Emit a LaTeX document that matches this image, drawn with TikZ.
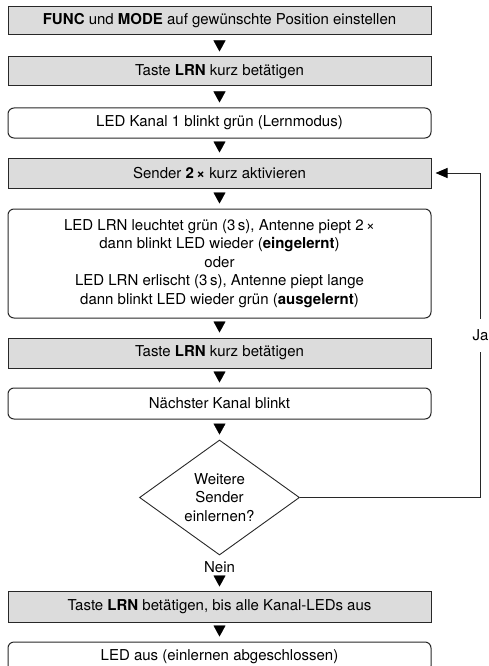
\documentclass[tikz,border=0pt]{standalone}
\usepackage{fontspec}
\setmainfont{TeX Gyre Heros}
\usetikzlibrary{arrows.meta,shapes.geometric}
\definecolor{boxgray}{RGB}{220,220,220}
\definecolor{linegray}{RGB}{40,40,40}
\tikzset{
    stepbox/.style={draw=linegray,line width=1pt,fill=boxgray,minimum width=423pt,minimum height=30pt,inner sep=0pt,align=center,font=\fontsize{15}{18.5}\selectfont},
    infobox/.style={draw=linegray,line width=1pt,rounded corners=6pt,fill=white,minimum width=423pt,minimum height=30pt,inner sep=0pt,align=center,font=\fontsize{15}{18.5}\selectfont},
    query/.style={diamond,draw=linegray,line width=0.9pt,aspect=1.39,minimum width=160pt,minimum height=115pt,inner sep=0pt,align=center,font=\fontsize{15}{18.5}\selectfont},
    flow/.style={line width=0.4pt,-{Triangle[width=12pt,length=11pt,fill=black]},shorten <=6pt,shorten >=5pt},
    back/.style={draw=linegray,line width=1pt,-{Triangle[width=10pt,length=12pt,fill=black,color=black]},shorten >=4pt}
}
\begin{document}
\begin{tikzpicture}[x=1pt,y=-1pt]
                    \useasboundingbox (0,0) rectangle (489,666);

                    \node (funcmode) [stepbox,minimum height=28pt] at (219.5,21) {\textbf{FUNC} und \textbf{MODE} auf gewünschte Position einstellen};
                    \node (lrnpress) [stepbox,minimum height=29pt] at (219.5,71.5) {Taste \textbf{LRN} kurz betätigen};
                    \node (blink) [infobox] at (219.5,123) {LED Kanal 1 blinkt grün (Lernmodus)};
                    \node (sender) [stepbox] at (219.5,173) {Sender \textbf{2\,×} kurz aktivieren};
                    \node (result) [infobox,minimum height=109pt] at (219.5,263.5) {LED LRN leuchtet grün (3\,s), Antenne piept 2\,×\\dann blinkt LED wieder (\textbf{eingelernt})\\oder\\LED LRN erlischt (3\,s), Antenne piept lange\\dann blinkt LED wieder grün (\textbf{ausgelernt})};
                    \node (lrnnext) [stepbox] at (219.5,353) {Taste \textbf{LRN} kurz betätigen};
                    \node (nextled) [infobox,minimum height=31pt] at (219.5,403.5) {Nächster Kanal blinkt};
                    \node (more) [query] at (219.5,497.5) {Weitere\\Sender\\einlernen?};
                    \node (lrnend) [stepbox,minimum height=31pt] at (219.5,606.5) {Taste \textbf{LRN} betätigen, bis alle Kanal-LEDs aus};
                    \node (ledoff) [infobox] at (219.5,657) {LED aus (einlernen abgeschlossen)};

                    \coordinate (loop) at (480.5,0);

                    \draw [flow] (funcmode)--(lrnpress);
                    \draw [flow] (lrnpress)--(blink);
                    \draw [flow] (blink)--(sender);
                    \draw [flow] (sender)--(result);
                    \draw [flow] (result)--(lrnnext);
                    \draw [flow] (lrnnext)--(nextled);
                    \draw [flow] (nextled)--(more);
                    \draw [flow,shorten <=21pt,shorten >=4pt] (more)--node[pos=0.33,font=\fontsize{15}{18.5}\selectfont]{Nein}(lrnend);
                    \draw [flow] (lrnend)--(ledoff);

                    \draw [back] (more.east)--(more.east -| loop)--node[fill=white,inner xsep=1pt,inner ysep=11pt,font=\fontsize{15}{18.5}\selectfont]{Ja}(sender.east -| loop)--(sender.east);
\end{tikzpicture}
\end{document}
